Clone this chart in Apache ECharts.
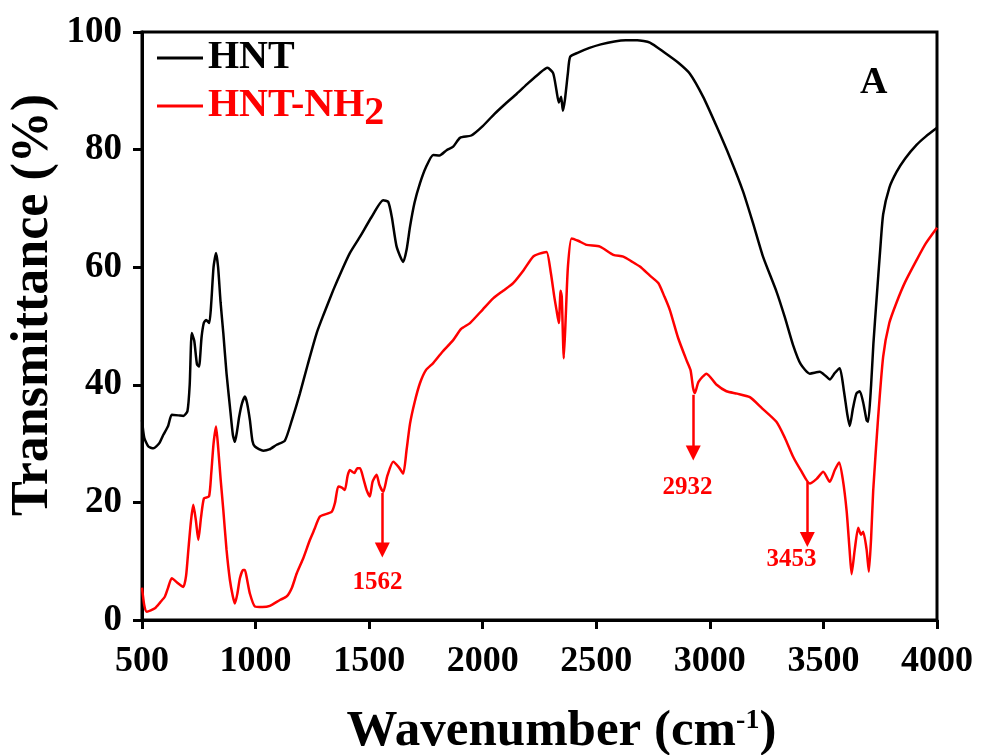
<!DOCTYPE html>
<html>
<head>
<meta charset="utf-8">
<script src="https://cdn.jsdelivr.net/npm/echarts@6/dist/echarts.min.js"></script>
<style>
  html, body { margin: 0; padding: 0; background: #fff; }
  #chart { width: 982px; height: 755px; }
</style>
</head>
<body>
<div id="chart"></div>
<script>
// FTIR spectra, [wavenumber, transmittance %]
const hntData = [
  [500,34],[510,31],[528,29.5],[550,29.2],[575,30],[594,31.5],[615,33],[631,34.9],[660,34.8],[682,34.7],
  [700,35.5],[710,40],[719,48.8],[730,47.5],[742,43.5],[751,43.1],[762,48],[772,50.5],[782,51],[796,50.5],
  [805,54],[815,60],[826,62.4],[835,60],[846,54],[858,48.8],[872,42],[887,36.3],[900,31.5],[909,30.3],
  [918,32],[928,34.6],[940,36.8],[953,38],[962,37],[975,34],[986,30.5],[997,29.5],[1034,28.8],[1060,29],
  [1093,29.8],[1129,30.5],[1160,34],[1195,38.5],[1230,43.5],[1269,48.8],[1300,52],[1342,56.1],[1380,59.5],
  [1415,62.4],[1460,65.2],[1510,68.5],[1562,71.4],[1584,71.1],[1600,68.5],[1621,63.5],[1650,60.9],[1665,63],
  [1680,66.9],[1700,71],[1724,74.3],[1750,77],[1782,79.1],[1810,79],[1841,79.9],[1870,80.5],[1900,82],
  [1950,82.4],[2000,84],[2050,86],[2100,87.8],[2150,89.5],[2200,91.3],[2250,93],[2285,93.9],[2310,93],
  [2325,90],[2335,88],[2345,89],[2353,86.6],[2362,88.5],[2375,93],[2385,95.8],[2420,96.5],[2470,97.3],
  [2520,97.9],[2580,98.4],[2630,98.6],[2680,98.6],[2736,98.2],[2800,96.5],[2860,94.8],[2912,92.9],[2970,89],
  [3029,84],[3090,78.5],[3146,72.9],[3190,67.5],[3234,61.8],[3293,55.9],[3330,51.5],[3366,46.8],[3400,43.5],
  [3440,41.9],[3484,42.2],[3510,41.5],[3528,40.9],[3550,42],[3572,42.8],[3590,39],[3605,35],[3616,33],
  [3630,36],[3645,38.5],[3660,38.9],[3675,37],[3690,34],[3697,33.7],[3710,40],[3720,47],[3734,54.6],
  [3750,63],[3763,69],[3790,73.5],[3822,76.2],[3860,78.5],[3910,80.8],[3950,82.2],[4000,83.7]
];

const hntNh2Data = [
  [500,5.5],[510,2.5],[521,1.4],[557,2],[580,3],[601,4],[615,5.5],[631,7.1],[660,6.2],[682,5.6],
  [694,7.5],[704,11.9],[716,17],[726,19.6],[737,17],[748,13.6],[760,17.5],[773,20.7],[795,21],[805,25],
  [815,30],[826,32.9],[836,29],[846,24],[858,18.7],[872,12],[887,6.8],[900,4],[909,2.8],[920,4.5],
  [931,7.1],[945,8.5],[953,8.5],[962,7],[975,4.5],[997,2.3],[1030,2.2],[1063,2.4],[1107,3.4],[1137,4],
  [1160,5.5],[1181,7.9],[1210,10.5],[1239,13.6],[1260,15.5],[1283,17.6],[1335,18.4],[1350,20],[1364,22.7],
  [1380,22.5],[1393,22.1],[1405,24.5],[1415,25.5],[1435,25],[1448,25.8],[1460,25.8],[1475,24],[1489,22.1],
  [1503,21],[1515,23.5],[1533,24.7],[1545,23],[1562,21.8],[1580,24.5],[1606,26.9],[1630,26],[1650,24.9],
  [1665,29],[1680,33.4],[1700,37],[1724,40.3],[1750,42.5],[1782,43.7],[1820,45.5],[1870,47.6],[1905,49.5],
  [1944,50.5],[2000,52.8],[2046,54.7],[2090,56],[2134,57.3],[2180,59.5],[2222,61.8],[2250,62.3],[2281,62.6],
  [2300,59],[2315,55],[2325,52.7],[2335,50.5],[2343,56],[2348,55],[2357,44.5],[2366,52],[2375,60],[2391,64.9],
  [2420,64.5],[2457,63.8],[2516,63.5],[2575,62.1],[2619,61.8],[2655,61],[2692,60.1],[2735,58.6],[2773,57.3],
  [2800,55],[2824,52.7],[2860,48],[2897,44.2],[2915,42.5],[2926,39.5],[2934,38.6],[2950,40.5],[2985,41.9],
  [3030,40],[3073,38.9],[3120,38.5],[3176,37.9],[3230,36],[3293,33.7],[3330,31],[3366,27.8],[3400,25.5],
  [3440,23.2],[3470,24],[3499,25.2],[3528,23.5],[3550,25.5],[3569,26.8],[3585,24],[3602,18.6],[3615,12],
  [3624,7.8],[3638,12],[3653,15.7],[3665,14.5],[3675,15],[3690,12],[3700,8.2],[3710,14],[3719,21.9],
  [3740,34],[3763,44.8],[3790,50.5],[3822,54],[3860,57.5],[3910,61.2],[3950,64],[4000,66.7]
];

// peak annotations (red arrows)
const peakLabels = ['1562', '2932', '3453'];
const arrowX = [1558, 2927, 3429];
const arrowFrom = [21.6, 38.3, 23.5];
const arrowTo = [11.9, 28.4, 13.7];
const labelX = [1537, 2902, 3359];
const labelY = [6.3, 22.5, 10.3];

const xTicks = { min: 500, max: 4000, interval: 500 };
const yTicks = { min: 0, max: 100, interval: 20 };

const font = 'Liberation Serif';
const chart = echarts.init(document.getElementById('chart'));

const arrowLines = arrowX.map((x, i) => [
  { coord: [x, arrowFrom[i]] },
  { coord: [x, arrowTo[i]] }
]);
const peakPoints = peakLabels.map((t, i) => ({ value: [labelX[i], labelY[i]], name: t }));

chart.setOption({
  animation: false,
  backgroundColor: '#fff',
  grid: {
    left: 142, right: 45, top: 32, bottom: 135,
    outerBoundsMode: 'none', containLabel: false,
    show: true, borderColor: '#000', borderWidth: 3
  },
  legend: {
    left: 152, top: 33, orient: 'vertical', itemGap: 8,
    itemWidth: 46, itemHeight: 3, icon: 'rect',
    data: [
      { name: 'HNT', textStyle: { color: '#000' } },
      { name: 'HNT-NH2', textStyle: { color: '#ff0000' } }
    ],
    textStyle: {
      fontFamily: font, fontWeight: 'bold', fontSize: 40,
      rich: {
        r: { fontFamily: font, fontWeight: 'bold', fontSize: 40, color: '#ff0000' },
        s: { fontFamily: font, fontWeight: 'bold', fontSize: 40, color: '#ff0000', padding: [16, 0, 0, 0] }
      }
    },
    formatter: name => name === 'HNT-NH2' ? '{r|HNT-NH}{s|2}' : name
  },
  xAxis: {
    type: 'value', min: xTicks.min, max: xTicks.max, interval: xTicks.interval,
    name: 'Wavenumber (cm{sup|-1})',
    nameLocation: 'middle', nameGap: 86,
    nameTextStyle: {
      fontFamily: font, fontWeight: 'bold', fontSize: 51, color: '#000',
      padding: [0, 0, 0, 44],
      rich: {
        sup: { fontFamily: font, fontWeight: 'bold', fontSize: 28, color: '#000', padding: [0, 0, 22, 0] }
      }
    },
    axisLine: { show: true, onZero: false, lineStyle: { color: '#000', width: 3 } },
    axisTick: { show: true, inside: false, length: 9, lineStyle: { color: '#000', width: 3 } },
    axisLabel: {
      margin: 24, fontFamily: font, fontWeight: 'bold', fontSize: 36, color: '#000',
      formatter: v => String(v)
    },
    splitLine: { show: false }
  },
  yAxis: {
    type: 'value', min: yTicks.min, max: yTicks.max, interval: yTicks.interval,
    axisLine: { show: true, onZero: false, lineStyle: { color: '#000', width: 3 } },
    axisTick: { show: true, inside: false, length: 9, lineStyle: { color: '#000', width: 3 } },
    axisLabel: {
      margin: 20, fontFamily: font, fontWeight: 'bold', fontSize: 37, color: '#000',
      formatter: v => String(v)
    },
    splitLine: { show: false }
  },
  graphic: [
    {
      type: 'text', x: 34, y: 305, rotation: Math.PI / 2,
      style: {
        text: 'Transmittance (%)', font: 'bold 52px "Liberation Serif"', fill: '#000',
        align: 'center', verticalAlign: 'middle'
      }
    },
    {
      type: 'text', left: 860, top: 64,
      style: { text: 'A', font: 'bold 38px "Liberation Serif"', fill: '#000' }
    }
  ],
  series: [
    {
      name: 'HNT', type: 'line', data: hntData, showSymbol: false,
      smooth: 0.2, lineStyle: { color: '#000', width: 2.5 }, itemStyle: { color: '#000' }
    },
    {
      name: 'HNT-NH2', type: 'line', data: hntNh2Data, showSymbol: false,
      smooth: 0.2, lineStyle: { color: '#ff0000', width: 2.5 }, itemStyle: { color: '#ff0000' },
      markLine: {
        silent: true, symbol: ['none', 'triangle'], symbolSize: [15, 15],
        label: { show: false },
        lineStyle: { color: '#ff0000', width: 2.5, type: 'solid' },
        data: arrowLines
      }
    },
    {
      name: 'peaks', type: 'scatter', data: peakPoints, symbolSize: 0, silent: true,
      itemStyle: { opacity: 1 },
      label: {
        show: true, position: 'inside', formatter: p => p.name, opacity: 1,
        fontFamily: font, fontWeight: 'bold', fontSize: 25, color: '#ff0000'
      }
    }
  ]
});
</script>
</body>
</html>
